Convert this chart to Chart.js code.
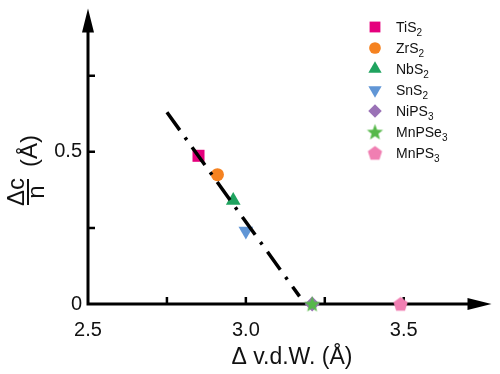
<!DOCTYPE html>
<html>
<head>
<meta charset="utf-8">
<script src="https://cdn.jsdelivr.net/npm/chart.js@4"></script>
<style>
body { margin: 0; background: #fff; }
</style>
</head>
<body>
<canvas id="myChart" width="500" height="374"></canvas>
<script>
const names = ['TiS', 'ZrS', 'NbS', 'SnS', 'NiPS', 'MnPSe', 'MnPS'];
const subs = ['2', '2', '2', '2', '3', '3', '3'];
const xValues = [2.85, 2.91, 2.96, 3.0, 3.21, 3.21, 3.49];
const yValues = [0.487, 0.425, 0.34, 0.24, 0, 0, 0];
const colors = ['#e5007d', '#f58220', '#1fa35f', '#6196d6', '#9a72b6', '#56b84a', '#f07fb2'];
const fitX = [2.75, 3.17];
const fitY = [0.63, 0.025];
const xTicks = [2.5, 2.75, 3.0, 3.25, 3.5];
const xTickLabels = ['2.5', '', '3.0', '', '3.5'];
const yTicks = [0, 0.25, 0.5, 0.75];
const yTickLabels = ['0', '', '0.5', ''];

const FONT = 'Arial, "Liberation Sans", sans-serif';

// custom filled shapes (Chart.js has no pentagon / filled star)
function makeShape(color, n, outer, inner) {
    const c = document.createElement('canvas');
    const s = Math.ceil(outer * 2 + 2);
    c.width = s; c.height = s;
    const g = c.getContext('2d');
    g.fillStyle = color;
    g.beginPath();
    const pts = inner ? n * 2 : n;
    for (let i = 0; i < pts; i++) {
        const r = inner && i % 2 ? inner : outer;
        const ang = -Math.PI / 2 + i * Math.PI * 2 / pts;
        const px = s / 2 + r * Math.cos(ang);
        const py = s / 2 + 0.6 + r * Math.sin(ang);
        i ? g.lineTo(px, py) : g.moveTo(px, py);
    }
    g.closePath();
    g.fill();
    return c;
}

const styles = ['rect', 'circle', 'triangle', 'triangle', 'rectRot',
    makeShape(colors[5], 5, 8.5, 3.6), makeShape(colors[6], 5, 7.5)];
const radii = [8.5, 6.5, 8.5, 8.5, 7.5, 8, 8];
const rotations = [0, 0, 0, 180, 0, 0, 0];

const pointSets = names.map((n, i) => ({
    label: n + subs[i],
    data: [{x: xValues[i], y: yValues[i]}],
    pointStyle: styles[i],
    pointRadius: radii[i],
    pointRotation: rotations[i],
    backgroundColor: colors[i],
    borderColor: colors[i],
    borderWidth: 0,
    clip: false,
    order: i === 5 ? -1 : 0,
}));

const fitSet = {
    type: 'line',
    label: 'fit',
    data: fitX.map((v, i) => ({x: v, y: fitY[i]})),
    borderColor: '#000',
    borderWidth: 3.5,
    borderDash: [22, 9, 3, 9],
    pointRadius: 0,
    clip: false,
    order: -2,
};

const decor = {
    id: 'decor',
    beforeDatasetsDraw(chart) {
        const {ctx, chartArea: a, scales: {x, y}} = chart;
        ctx.save();
        ctx.strokeStyle = '#000';
        ctx.fillStyle = '#000';
        ctx.lineWidth = 3;
        ctx.beginPath();
        ctx.moveTo(a.left, a.bottom + 1.5);
        ctx.lineTo(a.left, a.top + 20);
        ctx.moveTo(a.left - 1.5, a.bottom);
        ctx.lineTo(a.right - 20, a.bottom);
        ctx.stroke();
        ctx.beginPath();
        ctx.moveTo(a.left, a.top);
        ctx.lineTo(a.left - 6, a.top + 24);
        ctx.lineTo(a.left + 6, a.top + 24);
        ctx.closePath();
        ctx.moveTo(a.right, a.bottom);
        ctx.lineTo(a.right - 24, a.bottom - 6);
        ctx.lineTo(a.right - 24, a.bottom + 6);
        ctx.closePath();
        ctx.fill();
        ctx.lineWidth = 2.5;
        ctx.beginPath();
        xTicks.forEach(v => {
            if (v === xTicks[0]) return;
            const px = x.getPixelForValue(v);
            ctx.moveTo(px, a.bottom);
            ctx.lineTo(px, a.bottom - 7);
        });
        yTicks.forEach(v => {
            if (v === yTicks[0]) return;
            const py = y.getPixelForValue(v);
            ctx.moveTo(a.left, py);
            ctx.lineTo(a.left + 7, py);
        });
        ctx.stroke();
        ctx.restore();
    },
    afterDraw(chart) {
        const {ctx} = chart;
        ctx.save();
        // legend
        names.forEach((n, i) => {
            const ly = 27 + i * 21;
            ctx.fillStyle = colors[i];
            Chart.helpers.drawPoint(ctx, {
                pointStyle: styles[i], radius: radii[i] * 0.9, rotation: rotations[i], borderWidth: 0
            }, 375, ly);
            ctx.fillStyle = '#111';
            ctx.textAlign = 'left';
            ctx.textBaseline = 'alphabetic';
            ctx.font = '14px ' + FONT;
            ctx.fillText(n, 396, ly + 5);
            const w = ctx.measureText(n).width;
            ctx.font = '10px ' + FONT;
            ctx.fillText(subs[i], 396 + w, ly + 9);
        });
        // x title
        ctx.fillStyle = '#111';
        ctx.font = '23px ' + FONT;
        ctx.textAlign = 'center';
        ctx.textBaseline = 'alphabetic';
        ctx.fillText('\u0394 v.d.W. (\u00c5)', 292, 364);
        // y title: fraction dc/n and (A)
        ctx.translate(28, 192);
        ctx.rotate(-Math.PI / 2);
        ctx.font = '24px ' + FONT;
        ctx.fillText('\u0394c', 0, -4);
        ctx.fillText('n', 0, 16);
        ctx.lineWidth = 2;
        ctx.strokeStyle = '#111';
        ctx.beginPath();
        ctx.moveTo(-13, 0);
        ctx.lineTo(13, 0);
        ctx.stroke();
        ctx.textBaseline = 'middle';
        ctx.fillText('(\u00c5)', 41, 2);
        ctx.restore();
    }
};

function noPad(s) {
    s.paddingTop = 0;
    s.paddingBottom = 0;
    s.paddingLeft = 0;
    s.paddingRight = 0;
}

const ctx = document.getElementById('myChart').getContext('2d');

const myChart = new Chart(ctx, {
    type: 'scatter',
    data: {datasets: [fitSet, ...pointSets]},
    options: {
        responsive: false,
        animation: false,
        layout: {padding: {left: 0, top: 5, right: 2, bottom: 0}},
        scales: {
            x: {
                type: 'linear',
                min: 2.5,
                max: 3.778,
                afterFit: (s) => { s.height = 70; noPad(s); },
                afterBuildTicks: (s) => { s.ticks = xTicks.map(v => ({value: v})); },
                grid: {display: false, drawTicks: false},
                border: {display: false},
                ticks: {
                    autoSkip: false,
                    maxRotation: 0,
                    padding: 14,
                    color: '#111',
                    font: {family: FONT, size: 20},
                    callback: (v, i) => xTickLabels[i],
                },
            },
            y: {
                type: 'linear',
                min: 0,
                max: 0.971,
                afterFit: (s) => { s.width = 88; noPad(s); },
                afterBuildTicks: (s) => { s.ticks = yTicks.map(v => ({value: v})); },
                grid: {display: false, drawTicks: false},
                border: {display: false},
                ticks: {
                    padding: 6,
                    color: '#111',
                    font: {family: FONT, size: 20},
                    callback: (v, i) => yTickLabels[i],
                },
            },
        },
        plugins: {
            legend: {display: false},
            tooltip: {enabled: false},
        },
    },
    plugins: [decor],
});
</script>
</body>
</html>
